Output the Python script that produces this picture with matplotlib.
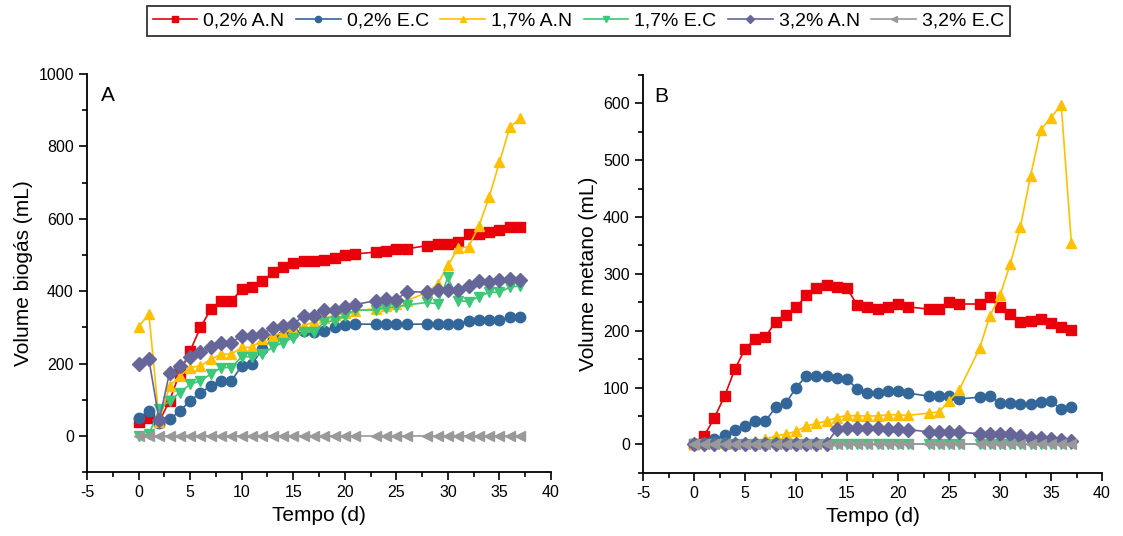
import numpy as np
import matplotlib
matplotlib.use('Agg')
import matplotlib.pyplot as plt
from matplotlib.ticker import MultipleLocator

plt.rcParams['font.family'] = ['Liberation Sans', 'DejaVu Sans']
plt.rcParams['axes.unicode_minus'] = False

days = [0, 1, 2, 3, 4, 5, 6, 7, 8, 9, 10, 11, 12, 13, 14, 15, 16, 17, 18, 19, 20, 21,
        23, 24, 25, 26, 28, 29, 30, 31, 32, 33, 34, 35, 36, 37]

labels = ['0,2% A.N', '0,2% E.C', '1,7% A.N', '1,7% E.C', '3,2% A.N', '3,2% E.C']

# painel A - biogas
biogas_02an = [40, 50, 40, 97, 175, 235, 300, 350, 372, 372, 406, 411, 427, 452, 466, 477, 483, 483,
               487, 492, 499, 503, 508, 511, 517, 517, 526, 531, 531, 535, 557, 557, 563, 568, 577, 577]
biogas_02ec = [51, 69, 37, 46, 69, 97, 120, 138, 152, 152, 194, 199, 240, 268, 277, 285, 291, 286,
               291, 302, 307, 309, 309, 309, 309, 309, 309, 309, 309, 309, 317, 320, 320, 320, 328, 328]
biogas_17an = [302, 337, 40, 138, 166, 189, 194, 212, 226, 226, 245, 245, 268, 277, 285, 295, 305, 315,
               325, 333, 340, 345, 352, 358, 365, 374, 397, 420, 471, 520, 522, 580, 660, 757, 853, 877]
biogas_17ec = [0, 5, 74, 97, 120, 143, 152, 171, 189, 189, 219, 219, 226, 245, 258, 272, 286, 288,
               314, 319, 332, 348, 348, 354, 357, 362, 369, 365, 438, 374, 371, 385, 397, 397, 411, 415]
biogas_32an = [199, 212, 43, 175, 194, 217, 231, 245, 256, 258, 277, 277, 282, 298, 305, 309, 332, 332,
               348, 348, 357, 363, 374, 378, 376, 399, 397, 402, 402, 404, 415, 427, 425, 431, 434, 431]
biogas_32ec = [0] * 36

# painel B - metano
metano_02an = [0, 15, 47, 85, 132, 168, 185, 189, 216, 228, 241, 262, 275, 281, 277, 275, 245, 241,
               239, 242, 247, 242, 238, 239, 250, 247, 247, 259, 242, 229, 216, 217, 220, 213, 207, 201]
metano_02ec = [0, 3, 9, 16, 25, 33, 41, 41, 65, 72, 100, 120, 120, 121, 117, 115, 97, 91,
               91, 94, 94, 90, 85, 85, 85, 80, 83, 85, 73, 73, 71, 71, 74, 76, 62, 65]
metano_17an = [0, 2, 3, 3, 3, 4, 6, 9, 15, 18, 23, 32, 37, 41, 47, 51, 50, 50,
               50, 52, 52, 51, 55, 57, 76, 96, 169, 226, 262, 317, 383, 473, 554, 575, 598, 354]
metano_17ec = [0] * 36
metano_32an = [0, 0, 0, 0, 0, 0, 0, 0, 0, 0, 0, 0, 0, 1, 27, 28, 29, 28,
               28, 27, 27, 26, 22, 21, 21, 21, 19, 19, 18, 18, 15, 12, 11, 9, 8, 6]
metano_32ec = [0] * 36

cores = ['#E8000B', '#336699', '#FFC000', '#3CC878', '#666699', '#999999']
marcadores = ['s', 'o', '^', 'v', 'D', '<']

fig = plt.figure(figsize=(11.23, 5.36), dpi=100)
axA = fig.add_axes([0.0775, 0.119, 0.4132, 0.743])
axB = fig.add_axes([0.5726, 0.118, 0.4087, 0.742])

serA = [biogas_02an, biogas_02ec, biogas_17an, biogas_17ec, biogas_32an, biogas_32ec]
serB = [metano_02an, metano_02ec, metano_17an, metano_17ec, metano_32an, metano_32ec]

for i in range(6):
    axA.plot(days, serA[i], color=cores[i], marker=marcadores[i], markersize=7.5,
             linewidth=1.2, label=labels[i])
    axB.plot(days, serB[i], color=cores[i], marker=marcadores[i], markersize=7.5,
             linewidth=1.2)

axA.set_xlim(-5, 40)
axA.set_ylim(-100, 1000)
axA.yaxis.set_major_locator(MultipleLocator(200))
axA.yaxis.set_minor_locator(MultipleLocator(100))
axA.set_ylabel('Volume biogás (mL)', fontsize=15)

axB.set_xlim(-5, 40)
axB.set_ylim(-50, 650)
axB.yaxis.set_major_locator(MultipleLocator(100))
axB.yaxis.set_minor_locator(MultipleLocator(50))
axB.set_ylabel('Volume metano (mL)', fontsize=15)

for ax in [axA, axB]:
    ax.xaxis.set_major_locator(MultipleLocator(5))
    ax.xaxis.set_minor_locator(MultipleLocator(2.5))
    ax.set_xlabel('Tempo (d)', fontsize=15)
    ax.spines['top'].set_visible(False)
    ax.spines['right'].set_visible(False)
    ax.spines['left'].set_linewidth(1.3)
    ax.spines['bottom'].set_linewidth(1.3)
    ax.tick_params(which='major', direction='out', length=6, width=1.2, labelsize=11.5)
    ax.tick_params(which='minor', direction='out', length=3.5, width=1.2)

axA.text(0.045, 0.945, 'A', transform=axA.transAxes, fontsize=15, ha='center', va='center')
axB.text(0.04, 0.945, 'B', transform=axB.transAxes, fontsize=15, ha='center', va='center')

leg = fig.legend(loc='center', bbox_to_anchor=(0.515, 0.961), ncol=6, fontsize=14,
                 frameon=True, fancybox=False, edgecolor='black', markerscale=0.6,
                 handlelength=2.3, handletextpad=0.3, columnspacing=0.6,
                 borderpad=0.3)
leg.get_frame().set_linewidth(1.3)

fig.savefig('out.png', dpi=100)
